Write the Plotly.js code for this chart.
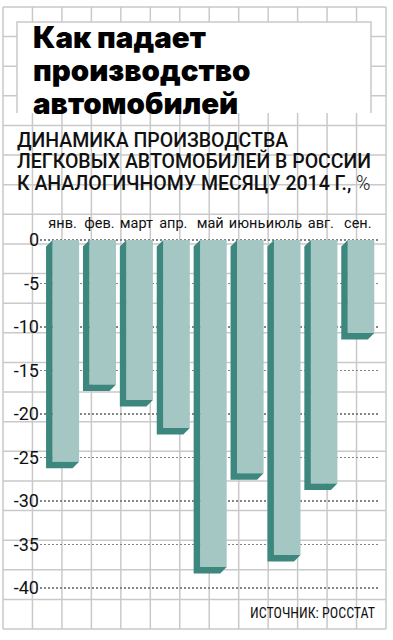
<!DOCTYPE html>
<html><head><meta charset="utf-8">
<script src="https://cdn.plot.ly/plotly-3.0.1.min.js"></script>
<style>html,body{margin:0;padding:0;background:#fff;} #chart{width:393px;height:640px;}</style>
</head><body><div id="chart"></div>
<script>
const months = ['янв.','фев.','март','апр.','май','июнь','июль','авг.','сен.'];
const values = [-25.5,-16.6,-18.4,-21.6,-37.6,-26.8,-36.2,-28.0,-10.7];
const yTickVals = [0,-5,-10,-15,-20,-25,-30,-35,-40];
const yTickText = ['0','-5','-10','-15','-20','-25','-30','-35','-40'];
const titleLines = ['Как падает','производство','автомобилей'];
const subtitleLines = ['ДИНАМИКА ПРОИЗВОДСТВА','ЛЕГКОВЫХ АВТОМОБИЛЕЙ В РОССИИ','К АНАЛОГИЧНОМУ МЕСЯЦУ 2014 Г., <span style="font-weight:300">%</span>'];
const sourceText = 'ИСТОЧНИК: РОССТАТ';

const W=393,H=640;
const M={l:40,r:13,t:232,b:18};
const plotW=W-M.l-M.r, plotH=H-M.t-M.b;
const zeroPx=240, pxPerUnit=8.7, pxPerCat=36.9;
const yMax=(zeroPx-M.t)/pxPerUnit, yMin=-(H-M.b-zeroPx)/pxPerUnit;
const xMin=-0.7, xMax=xMin+plotW/pxPerCat;
const halfW=0.36;
const depthPx=6.5;
const dX=depthPx/pxPerCat, dY=depthPx/pxPerUnit;
const LIGHT='#a5c7c4', DARK='#3d877f';
const idx = months.map((m,i)=>i);

// side/bottom faces of the 3D bars, computed from the values
const sx=[], sy=[];
values.forEach((v,i)=>{
  const L=i-halfW, R=i+halfW;
  sx.push(L, L-dX, L-dX, R-dX, R, L, L, null);
  sy.push(0, -dY, v-dY, v-dY, v, v, 0, null);
});

const px2x = p => (p-M.l)/plotW;
const py2y = p => (H-M.b-p)/plotH;

const shapes=[];
const gridColor='#c9c9c9';
const gx0=3, gx1=386, gy0=7, gy1=629;
const nV=13, nH=21;
for(let j=0;j<=nV;j++){
  const x=gx0+(gx1-gx0)*j/nV;
  shapes.push({type:'line',xref:'paper',yref:'paper',layer:'below',x0:px2x(x),x1:px2x(x),y0:py2y(gy0),y1:py2y(gy1),line:{color:gridColor,width:1.5}});
}
for(let i=0;i<=nH;i++){
  const y=gy0+(gy1-gy0)*i/nH;
  shapes.push({type:'line',xref:'paper',yref:'paper',layer:'below',x0:px2x(gx0),x1:px2x(gx1),y0:py2y(y),y1:py2y(y),line:{color:gridColor,width:1.5}});
}
// title box
shapes.push({type:'rect',xref:'paper',yref:'paper',layer:'below',x0:px2x(17),x1:px2x(371),y0:py2y(22),y1:py2y(113),fillcolor:'#fff',line:{width:0}});
shapes.push({type:'path',xref:'paper',yref:'paper',layer:'below',
  path:`M${px2x(17)},${py2y(113)} L${px2x(17)},${py2y(22)} L${px2x(371)},${py2y(22)} L${px2x(371)},${py2y(113)}`,
  line:{color:gridColor,width:1.5}});

const annotations=[];
const titleBase=[50,83,116];
titleLines.forEach((t,i)=>annotations.push({xref:'paper',yref:'paper',x:px2x(31),y:py2y(titleBase[i]+7),xanchor:'left',yanchor:'bottom',showarrow:false,text:t,
  font:{family:'Inter, DejaVu Sans',size:29.5,weight:900,color:'#000'}}));
const subBase=[148.5,170.2,192];
subtitleLines.forEach((t,i)=>annotations.push({xref:'paper',yref:'paper',x:px2x(15),y:py2y(subBase[i]+5),xanchor:'left',yanchor:'bottom',showarrow:false,text:t,
  font:{family:'Roboto',size:19.5,weight:500,color:'#111'}}));
annotations.push({xref:'paper',yref:'paper',x:px2x(377),y:py2y(623),xanchor:'right',yanchor:'bottom',showarrow:false,text:sourceText,
  font:{family:'Roboto Condensed, Liberation Sans Narrow, DejaVu Sans Condensed, Roboto',size:14,stretch:'condensed',color:'#111'}});

const data=[
  {type:'scatter',x:sx,y:sy,mode:'none',fill:'toself',fillcolor:DARK,hoverinfo:'skip',showlegend:false},
  {type:'bar',x:idx,y:values,base:0,width:2*halfW,marker:{color:LIGHT,line:{width:0}},hoverinfo:'skip',showlegend:false}
];

const layout={
  width:W,height:H,margin:M,
  paper_bgcolor:'#fff',plot_bgcolor:'rgba(0,0,0,0)',
  showlegend:false,
  xaxis:{range:[xMin,xMax],side:'top',tickvals:idx.map(i=>i-dX/2),ticktext:months,tickangle:0,showgrid:false,zeroline:false,showline:false,ticks:'',
    tickfont:{family:'Roboto',size:14.5,color:'#111'},fixedrange:true},
  yaxis:{range:[yMin,yMax],tickvals:yTickVals,ticktext:yTickText,showgrid:true,gridcolor:'#858585',griddash:'2px,2px',gridwidth:1.5,
    zeroline:false,showline:false,ticks:'',tickfont:{family:'Roboto',size:18,color:'#111'},fixedrange:true},
  shapes:shapes,annotations:annotations
};
Plotly.newPlot('chart',data,layout,{staticPlot:true,displayModeBar:false});
</script></body></html>
